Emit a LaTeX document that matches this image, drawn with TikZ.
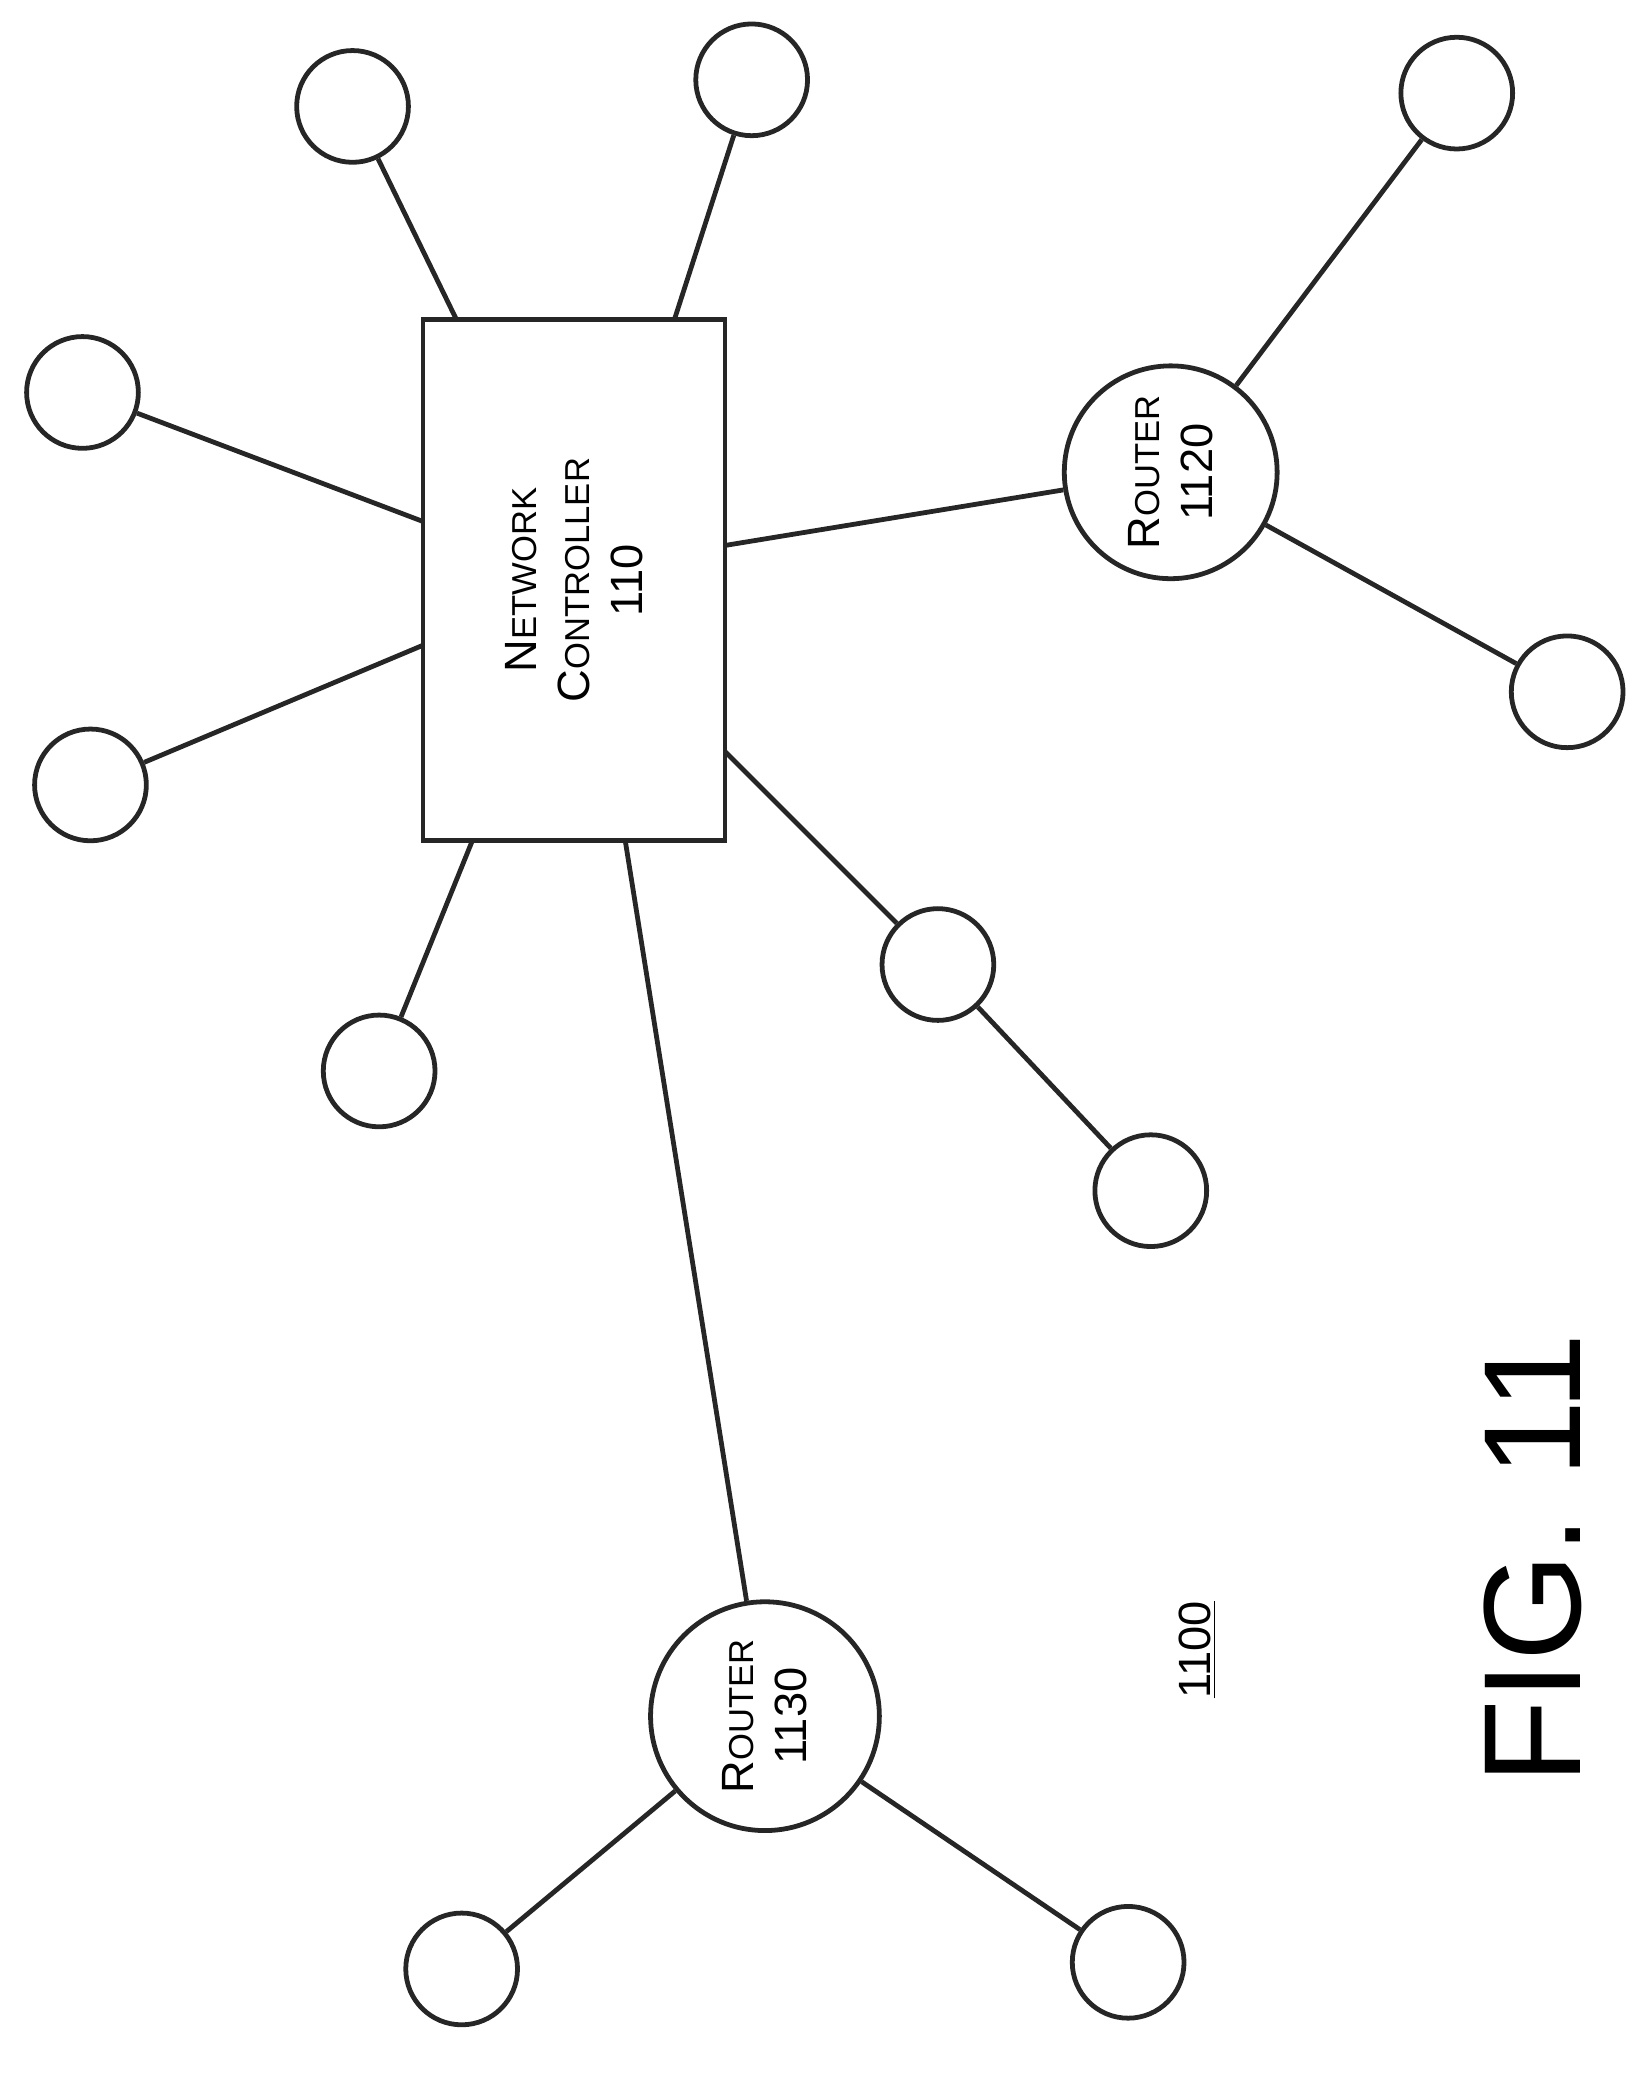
\documentclass[tikz,border=0pt]{standalone}
\usepackage{fontspec}
\setmainfont{Liberation Sans}
\begin{document}
\begin{tikzpicture}[x=0.5pt,y=-0.5pt,
 ln/.style={line width=1.8pt,draw=black!85},
 sm/.style={circle,draw=black!85,minimum size=42pt,inner sep=0pt,line width=1.8pt},
 rt/.style={circle,draw=black!85,minimum size=#1,inner sep=0pt,line width=1.8pt},
 lbl/.style={rotate=90,align=center,font=\fontsize{17}{20}\selectfont}]
\path[use as bounding box] (0,0) rectangle (1240,1568);
\node[draw=black!85,line width=1.8pt,minimum width=113.5pt,minimum height=196pt,inner sep=0pt] (nc) at (431.5,436) {};
\node[lbl] (nct) at (431.5,436) {N{\fontsize{13}{16}\selectfont ETWORK}\\C{\fontsize{13}{16}\selectfont ONTROLLER}\\110};
\node[sm] (c1) at (265,80) {};
\node[sm] (c2) at (565,60) {};
\node[sm] (c3) at (62,295) {};
\node[sm] (c4) at (68,590) {};
\node[sm] (c5) at (285,805) {};
\node[sm] (c6) at (705,725) {};
\node[sm] (c7) at (865,895) {};
\node[sm] (c8) at (1095,70) {};
\node[sm] (c9) at (1178,520) {};
\node[sm] (c10) at (347,1480) {};
\node[sm] (c11) at (848,1475) {};
\node[rt=80pt] (r1) at (880,355) {};
\node[lbl] (r1t) at (880,355) {R{\fontsize{13}{16}\selectfont OUTER}\\1120};
\node[rt=86pt] (r2) at (575,1290) {};
\node[lbl] (r2t) at (575,1290) {R{\fontsize{13}{16}\selectfont OUTER}\\1130};
\coordinate (a1) at (343,240); \coordinate (a2) at (507,240);
\coordinate (a3) at (318,392); \coordinate (a4) at (318,485);
\coordinate (a5) at (355,632); \coordinate (a6) at (545,565);
\coordinate (a7) at (545,410); \coordinate (a8) at (470,632);
\draw[ln] (c1) -- (a1); \draw[ln] (c2) -- (a2); \draw[ln] (c3) -- (a3); \draw[ln] (c4) -- (a4);
\draw[ln] (c5) -- (a5); \draw[ln] (c6) -- (a6); \draw[ln] (c6) -- (c7);
\draw[ln] (a7) -- (r1); \draw[ln] (a8) -- (r2);
\draw[ln] (r1) -- (c8); \draw[ln] (r1) -- (c9); \draw[ln] (r2) -- (c10); \draw[ln] (r2) -- (c11);
\node[lbl] (l1100) at (900,1240) {\underline{1100}};
\node[rotate=90,font=\fontsize{52}{60}\selectfont] (fig) at (1152,1172) {FIG. 11};
\end{tikzpicture}
\end{document}
